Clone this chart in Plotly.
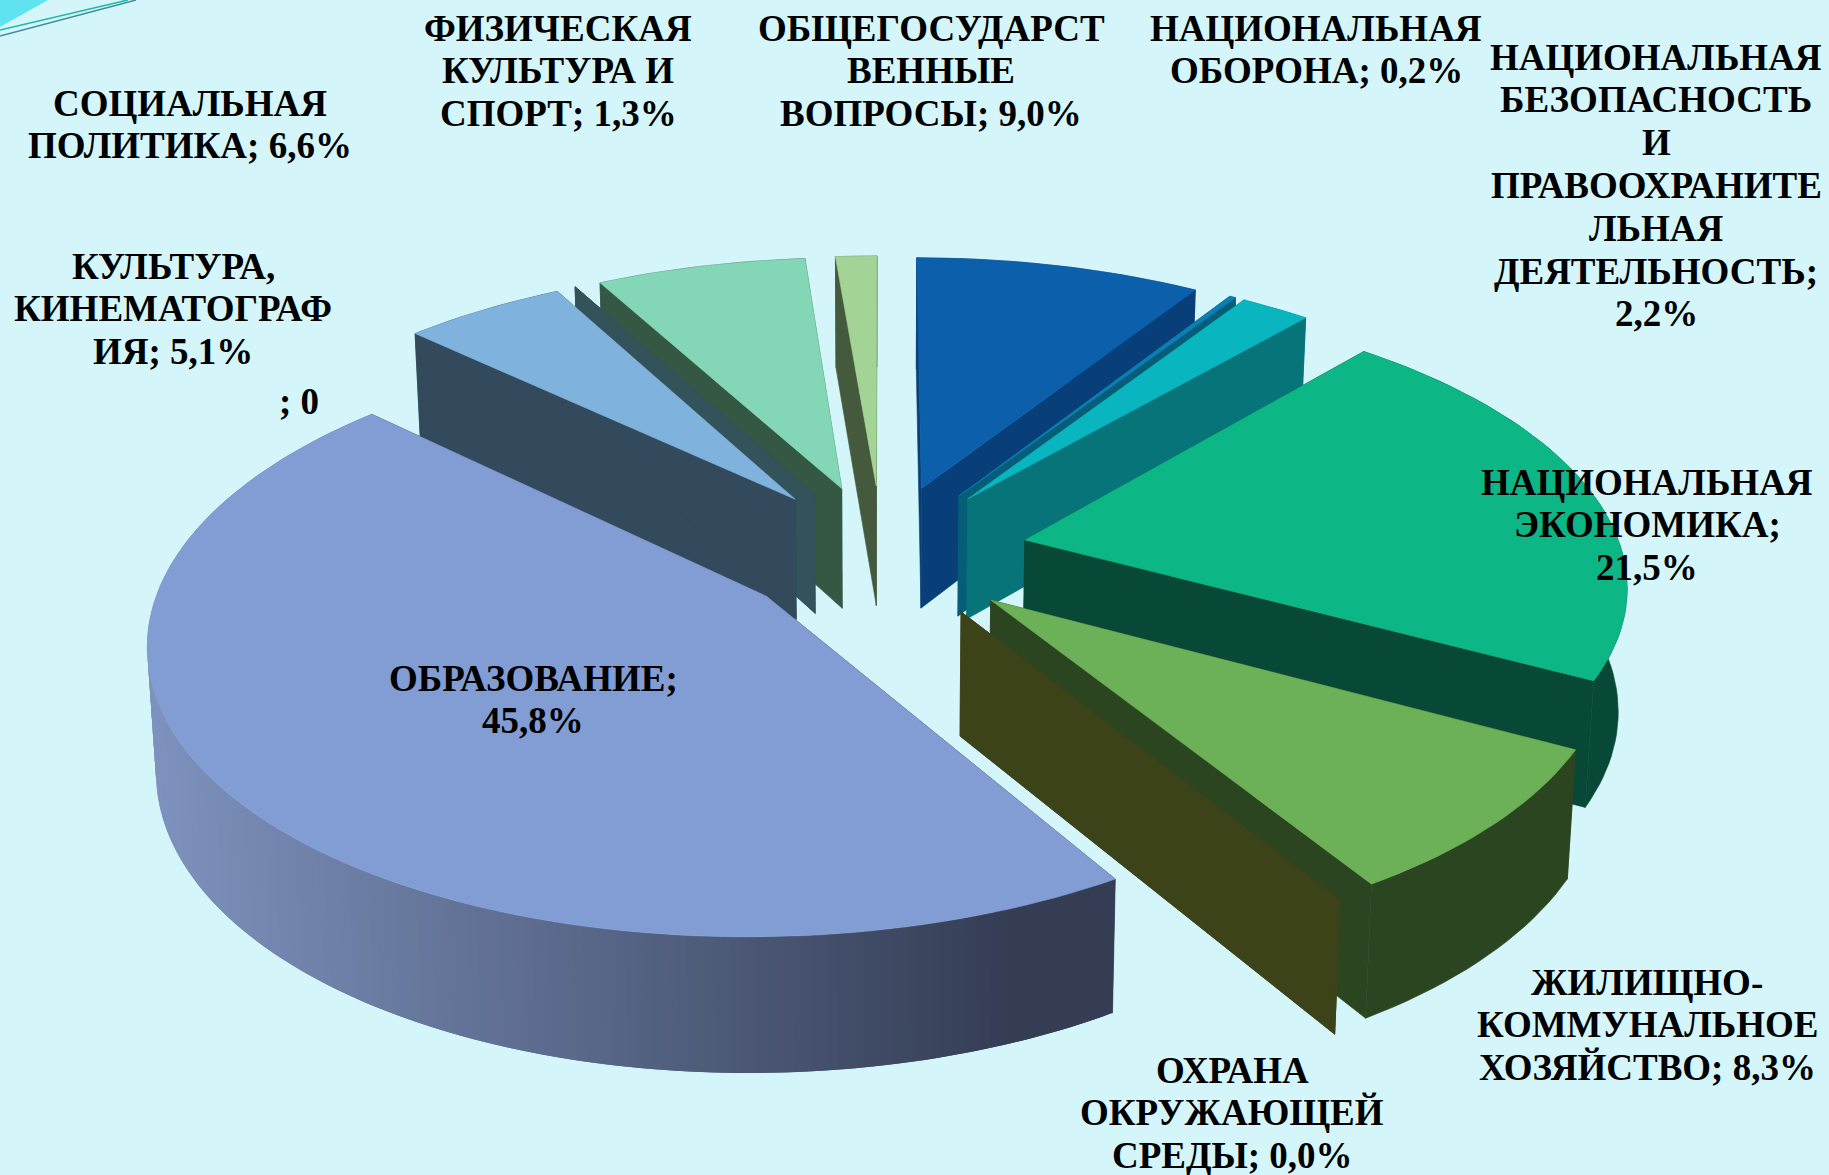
import math
import plotly.graph_objects as go

# clockwise from 12 o'clock, the order of the source table
values = [9.0, 0.2, 2.2, 21.5, 8.3, 0.0, 45.8, 5.1, 0.0, 6.6, 1.3]
top_colors = ["#0b5fab", "#0a7fb6", "#09b6bf", "#0cb685", "#6cb057", "#3c4319",
              "#829dd4", "#7fb3de", "#325359", "#83d7b6", "#a3d495"]
wall_colors = ["#093f78", "#065d78", "#067478", "#074936", "#2c4521", "#3c4319",
               "#343e56", "#33495c", "#325359", "#355845", "#455a3c"]
draw_order = [10, 0, 1, 2, 9, 8, 7, 3, 4, 5, 6]
gradient_slice = 6

label_lines = [
    ["СОЦИАЛЬНАЯ", "ПОЛИТИКА; 6,6%"],
    ["ФИЗИЧЕСКАЯ", "КУЛЬТУРА И", "СПОРТ; 1,3%"],
    ["ОБЩЕГОСУДАРСТ", "ВЕННЫЕ", "ВОПРОСЫ; 9,0%"],
    ["НАЦИОНАЛЬНАЯ", "ОБОРОНА; 0,2%"],
    ["НАЦИОНАЛЬНАЯ", "БЕЗОПАСНОСТЬ", "И", "ПРАВООХРАНИТЕ", "ЛЬНАЯ", "ДЕЯТЕЛЬНОСТЬ;", "2,2%"],
    ["НАЦИОНАЛЬНАЯ", "ЭКОНОМИКА;", "21,5%"],
    ["ЖИЛИЩНО-", "КОММУНАЛЬНОЕ", "ХОЗЯЙСТВО; 8,3%"],
    ["ОХРАНА", "ОКРУЖАЮЩЕЙ", "СРЕДЫ; 0,0%"],
    ["ОБРАЗОВАНИЕ;", "45,8%"],
    ["КУЛЬТУРА,", "КИНЕМАТОГРАФ", "ИЯ; 5,1%"],
    ["; 0"],
]
label_x = [190, 558, 931, 1316, 1656, 1647, 1647, 1232, 533, 173, 299]
label_y = [103, 28, 28, 28, 57, 482, 982, 1070, 678, 266, 401]
LINE_STEP = 42.8

# pie geometry in page pixels
CX, CY = 882, 552
R, EXPLODE = 597, 146
TILT, PERSP, DEPTH = 0.468, 0.14, 122


def project(a, b, z):
    s = 1 / (1 - PERSP * b / R)
    return CX + a * s * (1 - 0.012 * z), CY + TILT * b * s + z * DEPTH * (1 + 0.6 * (s - 1))


def rim_angles(t0, t1, n):
    return [t0 + (t1 - t0) * i / n for i in range(n + 1)]


def rim_point(ax, bx, t, z):
    return project(ax + R * math.sin(t), bx - R * math.cos(t), z)


def add_poly(fig, pts, color, width=0.6):
    xs = [p[0] for p in pts] + [pts[0][0]]
    ys = [p[1] for p in pts] + [pts[0][1]]
    fig.add_trace(go.Scatter(x=xs, y=ys, mode="lines", fill="toself", fillcolor=color,
                             line=dict(color=color, width=width), hoverinfo="skip",
                             showlegend=False))


def wall_gradient(x):
    # left side of the big slice is lit, right side is dark
    f = min(max((x - 150) / 865, 0), 1)
    c0, c1 = (126, 146, 190), (52, 61, 84)
    return "rgb(%d,%d,%d)" % tuple(round(p + (q - p) * f) for p, q in zip(c0, c1))


fig = go.Figure()

total = sum(values)
starts = [sum(values[:i]) / total * 2 * math.pi for i in range(len(values))]

for i in draw_order:
    t0 = starts[i]
    t1 = t0 + values[i] / total * 2 * math.pi
    mid = (t0 + t1) / 2
    ax = EXPLODE * math.sin(mid)
    bx = -EXPLODE * math.cos(mid)
    n = max(2, int((t1 - t0) * 40))
    angles = rim_angles(t0, t1, n)

    # side walls
    for t in (t0, t1):
        add_poly(fig, [project(ax, bx, 0), rim_point(ax, bx, t, 0),
                       rim_point(ax, bx, t, 1), project(ax, bx, 1)], wall_colors[i])
    # outer wall
    if i == gradient_slice:
        # strips overlap the next one so no seams show through
        fine = rim_angles(t0, t1, n * 2)
        for k in range(len(fine) - 1):
            a0, a1 = fine[k], fine[min(k + 2, len(fine) - 1)]
            p0, p1 = rim_point(ax, bx, a0, 0), rim_point(ax, bx, a1, 0)
            q0, q1 = rim_point(ax, bx, a0, 1), rim_point(ax, bx, a1, 1)
            add_poly(fig, [p0, p1, q1, q0], wall_gradient(p0[0]), width=0)
    else:
        add_poly(fig, [rim_point(ax, bx, a, 0) for a in angles]
                 + [rim_point(ax, bx, a, 1) for a in reversed(angles)], wall_colors[i])
    # top face
    add_poly(fig, [project(ax, bx, 0)] + [rim_point(ax, bx, a, 0) for a in angles], top_colors[i])

for lines, x, y in zip(label_lines, label_x, label_y):
    for j, line in enumerate(lines):
        fig.add_annotation(x=x, y=y + j * LINE_STEP, text="<b>" + line + "</b>", showarrow=False,
                           xanchor="center", yanchor="middle",
                           font=dict(family="Liberation Serif", size=37, color="black"))

# corner decoration of the slide
fig.add_shape(type="path", path="M 0 0 L 48 0 L 0 27 Z", fillcolor="#5fe3f0", line_width=0, layer="below")
fig.add_shape(type="line", x0=0, y0=30, x1=128, y1=0, line=dict(color="#1fb8a8", width=1.5), layer="below")
fig.add_shape(type="line", x0=0, y0=36, x1=136, y1=0, line=dict(color="#3f8ea0", width=1.5), layer="below")

fig.update_layout(
    width=1829, height=1175,
    margin=dict(l=0, r=0, t=0, b=0),
    paper_bgcolor="#d4f6fb",
    plot_bgcolor="#d4f6fb",
    showlegend=False,
    xaxis=dict(range=[0, 1829], visible=False, fixedrange=True),
    yaxis=dict(range=[1175, 0], visible=False, fixedrange=True),
)

# the page's default body margin would push the slide off by 8 px
fig.write_html("out.html", config=dict(displayModeBar=False),
               post_script="document.body.style.margin='0';document.body.style.overflow='hidden';")
